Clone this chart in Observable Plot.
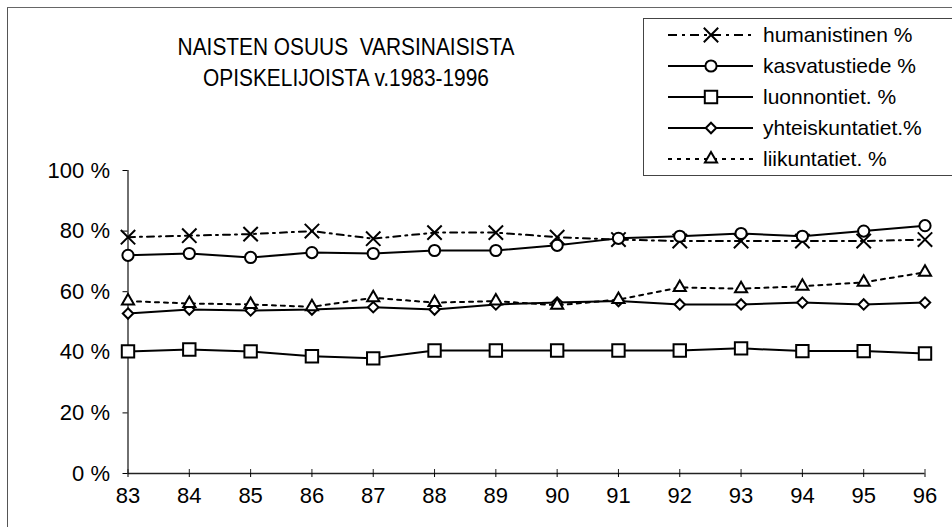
<!DOCTYPE html>
<html>
<head>
<meta charset="utf-8">
<script src="https://cdn.jsdelivr.net/npm/d3@7"></script>
<script src="https://cdn.jsdelivr.net/npm/@observablehq/plot@0.6"></script>
<style>
  html, body { margin: 0; padding: 0; background: #fff; overflow: hidden; }
  #wrap { position: relative; width: 952px; height: 527px; font-family: "Liberation Sans", Arial, sans-serif; color: #000; }
  #chart { position: absolute; left: 0; top: 0; }
  .frame-left { position: absolute; left: 7px; top: 7px; width: 1px; height: 520px; background: #555; }
  .frame-top { position: absolute; left: 7px; top: 7px; width: 945px; height: 1px; background: #666; }
  .title { position: absolute; left: 146px; width: 400px; text-align: center; font-size: 24px; line-height: 30px; transform: scaleX(0.87); transform-origin: 200px 0; white-space: pre; }
  #legend { position: absolute; left: 643px; top: 18px; width: 320px; height: 156px; border: 1px solid #444; background: #fff; }
  .lrow { position: absolute; left: 0; height: 30px; display: flex; align-items: center; }
  .lrow svg { display: block; }
  .lrow span { font-size: 21px; margin-left: 2px; white-space: pre; }
</style>
</head>
<body>
<div id="wrap">
  <div id="chart"></div>
  <div class="frame-left"></div>
  <div class="frame-top"></div>
  <div class="title" style="top:32px">NAISTEN OSUUS  VARSINAISISTA</div>
  <div class="title" style="top:63px">OPISKELIJOISTA v.1983-1996</div>
  <div id="legend"></div>
</div>
<script>
const years = [83, 84, 85, 86, 87, 88, 89, 90, 91, 92, 93, 94, 95, 96];
const humanistinen    = [78, 78.5, 79, 80, 77.5, 79.5, 79.5, 78, 77.2, 76.7, 76.7, 76.7, 76.7, 77.2];
const kasvatustiede   = [72, 72.6, 71.3, 72.9, 72.6, 73.6, 73.6, 75.3, 77.6, 78.3, 79.2, 78.3, 80, 81.8];
const luonnontiet     = [40.3, 40.9, 40.3, 38.7, 38, 40.6, 40.6, 40.6, 40.6, 40.6, 41.3, 40.4, 40.4, 39.6];
const yhteiskuntatiet = [52.8, 54.1, 53.8, 54.1, 54.9, 54.1, 55.8, 56.4, 56.9, 55.8, 55.8, 56.4, 55.8, 56.4];
const liikuntatiet    = [56.9, 56.1, 55.8, 55, 58, 56.4, 56.9, 55.5, 57.4, 61.4, 61, 61.8, 63.1, 66.4];
const seriesNames = ["humanistinen %", "kasvatustiede %", "luonnontiet. %", "yhteiskuntatiet.%", "liikuntatiet. %"];
const yTicks = [0, 20, 40, 60, 80, 100];

const styles = [
  {values: humanistinen,    symbol: "times",    r: 6.6, dash: "7,5,2,5"},
  {values: kasvatustiede,   symbol: "circle",   r: 5.6, dash: null},
  {values: luonnontiet,     symbol: "square",   r: 7.0, dash: null},
  {values: yhteiskuntatiet, symbol: "diamond2", r: 4.7, dash: null},
  {values: liikuntatiet,    symbol: "triangle2",r: 5.8, dash: "4,5"}
];

const series = styles.map((s, i) => ({
  ...s,
  name: seriesNames[i],
  data: years.map((x, j) => ({x, y: s.values[j]}))
}));

const marks = [
  Plot.ruleY([0], {stroke: "#222", strokeWidth: 1.3}),
  Plot.ruleX([years[0]], {y1: 0, y2: yTicks[yTicks.length - 1], stroke: "#222", strokeWidth: 1.3}),
  Plot.ruleX(years, {x: d => d, y1: 0, y2: 0, insetTop: -4, stroke: "#222"}),
  Plot.axisY({ticks: yTicks, tickFormat: d => d + " %", tickSize: 5, tickPadding: 13, fontSize: 22, label: null}),
  Plot.axisX({ticks: years, tickFormat: d => String(d), tickSize: 4, tickPadding: 10, fontSize: 22, label: null})
];
for (const s of series) {
  marks.push(Plot.line(s.data, {x: "x", y: "y", stroke: "black", strokeWidth: 2, strokeDasharray: s.dash || undefined}));
}
for (const s of series) {
  marks.push(Plot.dot(s.data, {x: "x", y: "y", symbol: s.symbol, r: s.r, fill: "white", stroke: "black", strokeWidth: 2}));
}

const chart = Plot.plot({
  width: 952,
  height: 527,
  marginLeft: 127.5,
  marginRight: 27.5,
  marginTop: 170,
  marginBottom: 54,
  style: {fontFamily: "Liberation Sans, Arial, sans-serif", color: "black", background: "transparent"},
  x: {domain: [years[0], years[years.length - 1]]},
  y: {domain: [0, 100]},
  marks
});
document.getElementById("chart").appendChild(chart);

// legend
const symMap = {times: d3.symbolTimes, circle: d3.symbolCircle, square: d3.symbolSquare, diamond2: d3.symbolDiamond2, triangle2: d3.symbolTriangle2};
const legendDash = ["9,5,3,5", null, null, null, "4,5"];
const legend = document.getElementById("legend");
series.forEach((s, i) => {
  const row = document.createElement("div");
  row.className = "lrow";
  row.style.top = (1 + i * 31) + "px";
  const ns = "http://www.w3.org/2000/svg";
  const svg = document.createElementNS(ns, "svg");
  svg.setAttribute("width", 117);
  svg.setAttribute("height", 30);
  const line = document.createElementNS(ns, "line");
  line.setAttribute("x1", 24); line.setAttribute("x2", 109);
  line.setAttribute("y1", 15); line.setAttribute("y2", 15);
  line.setAttribute("stroke", "black"); line.setAttribute("stroke-width", 2);
  if (legendDash[i]) line.setAttribute("stroke-dasharray", legendDash[i]);
  svg.appendChild(line);
  const p = document.createElementNS(ns, "path");
  p.setAttribute("d", d3.symbol(symMap[s.symbol], Math.PI * s.r * s.r)());
  p.setAttribute("transform", "translate(67,15)");
  p.setAttribute("fill", "white"); p.setAttribute("stroke", "black"); p.setAttribute("stroke-width", 2);
  svg.appendChild(p);
  row.appendChild(svg);
  const t = document.createElement("span");
  t.textContent = s.name;
  row.appendChild(t);
  legend.appendChild(row);
});
</script>
</body>
</html>
